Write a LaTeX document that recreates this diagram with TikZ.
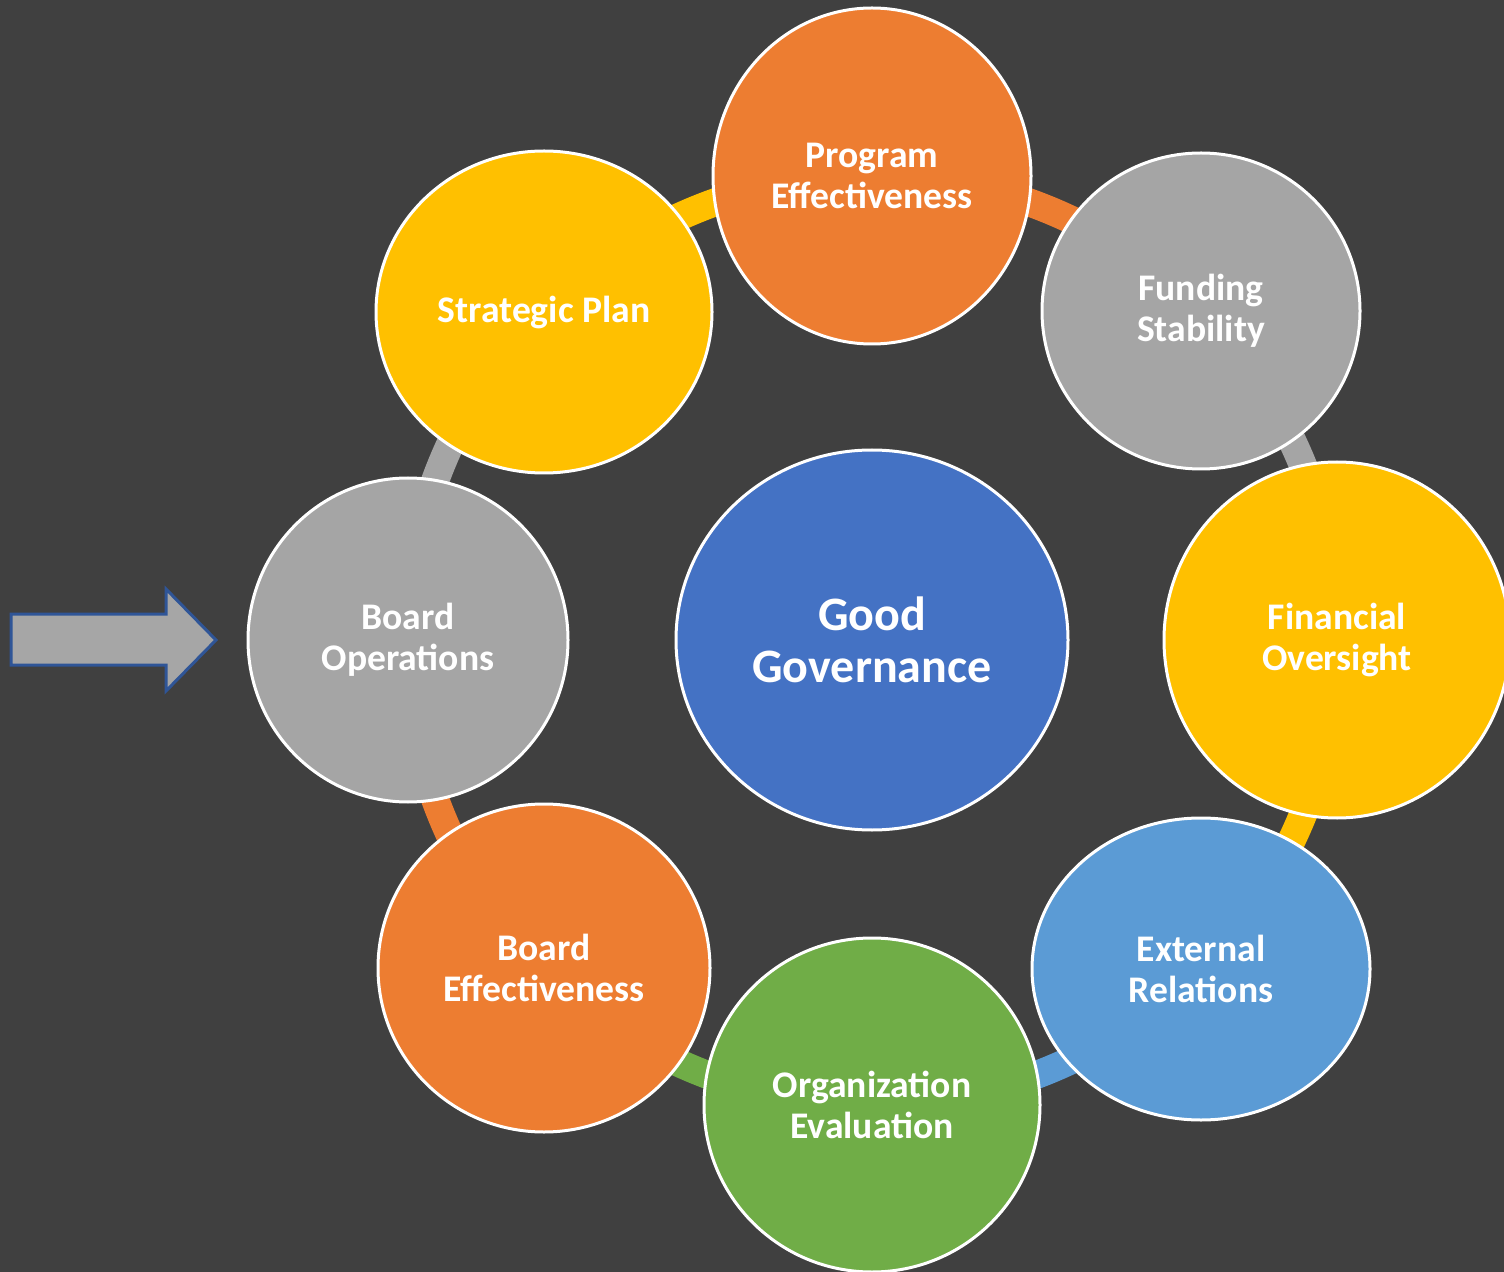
\documentclass[tikz,border=0pt]{standalone}
\usepackage{fontspec}
\setmainfont{Carlito}
\usetikzlibrary{shapes.geometric}
\definecolor{bg}{HTML}{404040}
\definecolor{cOrange}{HTML}{ED7D31}
\definecolor{cYellow}{HTML}{FFC000}
\definecolor{cGray}{HTML}{A5A5A5}
\definecolor{cBlue}{HTML}{5B9BD5}
\definecolor{cGreen}{HTML}{70AD47}
\definecolor{cCenter}{HTML}{4472C4}
\definecolor{cArrowLine}{HTML}{2F5597}
\definecolor{cArrowFill}{HTML}{A6A6A6}
\begin{document}
\begin{tikzpicture}[x=0.5pt,y=-0.5pt,
  sat/.style={ellipse, draw=white, line width=1.5pt, inner sep=0pt, text=white, align=center,
    font=\bfseries\fontsize{18.8}{20.5}\selectfont},
  ring/.style={line width=14pt}]
\useasboundingbox (0,0) rectangle (1504,1272);
\clip (0,0) rectangle (1504,1272);
\fill[bg] (0,0) rectangle (1504,1272);
\coordinate (C) at (872,640);
% ring segments
\draw[ring, cYellow] (C) ++(-135:465) arc[start angle=-135, end angle=-90, radius=465];
\draw[ring, cOrange] (C) ++(-90:465) arc[start angle=-90, end angle=-45, radius=465];
\draw[ring, cGray]   (C) ++(-45:465) arc[start angle=-45, end angle=0, radius=465];
\draw[ring, cYellow] (C) ++(0:465) arc[start angle=0, end angle=45, radius=465];
\draw[ring, cBlue]   (C) ++(45:465) arc[start angle=45, end angle=90, radius=465];
\draw[ring, cGreen]  (C) ++(90:465) arc[start angle=90, end angle=135, radius=465];
\draw[ring, cOrange] (C) ++(135:465) arc[start angle=135, end angle=180, radius=465];
\draw[ring, cGray]   (C) ++(180:465) arc[start angle=180, end angle=225, radius=465];
% circles
\node[sat, fill=cCenter, minimum width=196pt, minimum height=190pt,
  font=\bfseries\fontsize{24}{26}\selectfont] (gg) at (872,640) {Good\\Governance};
\node[sat, fill=cOrange, minimum width=159pt, minimum height=168pt] (pe) at (872,176) {Program\\Effectiveness};
\node[sat, fill=cGray, minimum width=159pt, minimum height=158pt] (fs) at (1201,311) {Funding\\Stability};
\node[sat, fill=cYellow, minimum width=173pt, minimum height=178pt] (fo) at (1337,640) {Financial\\Oversight};
\node[sat, fill=cBlue, minimum width=169pt, minimum height=151pt] (er) at (1201,969) {External\\Relations};
\node[sat, fill=cGreen, minimum width=168pt, minimum height=167pt] (oe) at (872,1105) {Organization\\Evaluation};
\node[sat, fill=cOrange, minimum width=166pt, minimum height=164pt] (be) at (544,968) {Board\\Effectiveness};
\node[sat, fill=cGray, minimum width=160pt, minimum height=162pt] (bo) at (408,640) {Board\\Operations};
\node[sat, fill=cYellow, minimum width=168pt, minimum height=161pt] (sp) at (544,312) {Strategic Plan};
% arrow
\draw[fill=cArrowFill, draw=cArrowLine, line width=1.5pt, line join=miter]
  (11,614) -- (166,614) -- (166,589) -- (216,640) -- (166,691) -- (166,665) -- (11,665) -- cycle;
\end{tikzpicture}
\end{document}
